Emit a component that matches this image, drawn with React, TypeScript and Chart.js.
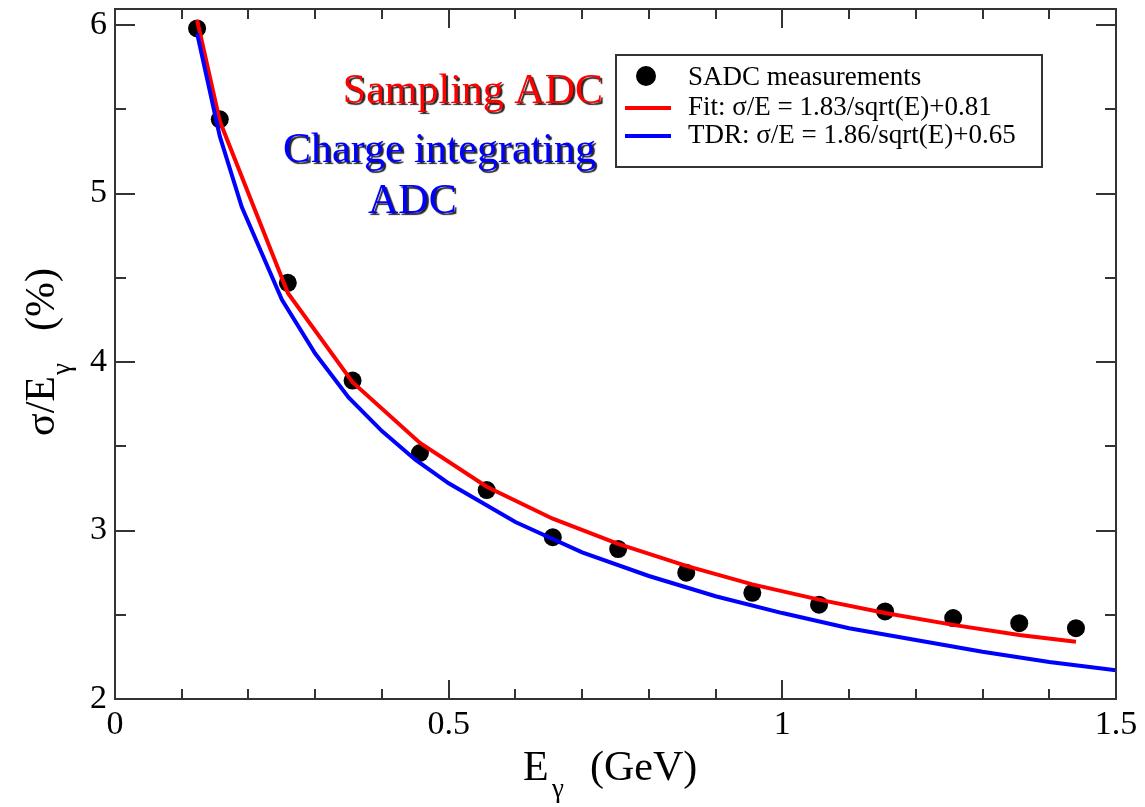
import React, { useEffect, useRef } from 'react';
import { Chart, registerables } from 'chart.js';

Chart.register(...registerables);

// ---- data ----
const measEnergy = [0.123, 0.157, 0.259, 0.356, 0.457, 0.557, 0.656, 0.754, 0.856, 0.955, 1.055, 1.154, 1.256, 1.355, 1.44];
const measSigma = [5.98, 5.44, 4.47, 3.89, 3.46, 3.24, 2.96, 2.89, 2.75, 2.63, 2.56, 2.52, 2.48, 2.45, 2.42];

const fitEnergy = [0.123, 0.157, 0.259, 0.356, 0.457, 0.557, 0.656, 0.754, 0.856, 0.955, 1.055, 1.154, 1.256, 1.355, 1.44];
const fitSigma = [6.03, 5.43, 4.41, 3.88, 3.52, 3.26, 3.07, 2.92, 2.79, 2.68, 2.59, 2.51, 2.44, 2.38, 2.34];

const tdrEnergy = [0.123, 0.157, 0.19, 0.25, 0.3, 0.35, 0.4, 0.45, 0.5, 0.6, 0.7, 0.8, 0.9, 1.0, 1.1, 1.2, 1.3, 1.4, 1.5];
const tdrSigma = [5.95, 5.34, 4.92, 4.37, 4.05, 3.79, 3.59, 3.42, 3.28, 3.05, 2.87, 2.73, 2.61, 2.51, 2.42, 2.35, 2.28, 2.22, 2.17];

const xTickValues = [0, 0.5, 1, 1.5];
const xTickLabels = ['0', '0.5', '1', '1.5'];
const yTickValues = [2, 3, 4, 5, 6];
const yTickLabels = ['2', '3', '4', '5', '6'];

const legendLabels = ['SADC measurements', 'Fit: σ/E = 1.83/sqrt(E)+0.81', 'TDR: σ/E = 1.86/sqrt(E)+0.65'];

const W = 1145;
const H = 807;
const SERIF = "'Liberation Serif', 'Times New Roman', serif";

function toXY(xs: number[], ys: number[]) {
  return xs.map((v, i) => ({ x: v, y: ys[i] }));
}

const decorPlugin = {
  id: 'decor',
  afterDatasetsDraw(chart: any) {
    const ctx: CanvasRenderingContext2D = chart.ctx;
    const { left, right, top, bottom } = chart.chartArea;
    const xs = chart.scales.x;
    const ys = chart.scales.y;
    ctx.save();

    // frame + inward ticks on all four sides
    ctx.strokeStyle = '#333';
    ctx.lineWidth = 2;
    ctx.beginPath();
    for (let i = 0; i <= 15; i++) {
      const px = Math.round(xs.getPixelForValue(i / 10));
      const len = i % 5 === 0 ? 19 : 10;
      ctx.moveTo(px, bottom);
      ctx.lineTo(px, bottom - len);
      ctx.moveTo(px, top);
      ctx.lineTo(px, top + len);
    }
    for (let i = 0; i <= 8; i++) {
      const py = Math.round(ys.getPixelForValue(2 + i * 0.5));
      const len = i % 2 === 0 ? 20 : 11;
      ctx.moveTo(left, py);
      ctx.lineTo(left + len, py);
      ctx.moveTo(right, py);
      ctx.lineTo(right - len, py);
    }
    ctx.stroke();
    ctx.strokeRect(left, top, right - left, bottom - top);

    // legend
    const ds = chart.data.datasets;
    const bx = 616, by = 55, bw = 426, bh = 112;
    ctx.fillStyle = '#fff';
    ctx.fillRect(bx, by, bw, bh);
    ctx.strokeStyle = '#333';
    ctx.lineWidth = 2;
    ctx.strokeRect(bx, by, bw, bh);
    ctx.font = `27px ${SERIF}`;
    ctx.textAlign = 'left';
    ctx.textBaseline = 'alphabetic';
    const rows = [76, 106, 134];
    const bases = [85, 115, 143];
    ctx.fillStyle = ds[0].backgroundColor;
    ctx.beginPath();
    ctx.arc(646, rows[0], 10, 0, Math.PI * 2);
    ctx.fill();
    for (let k = 1; k <= 2; k++) {
      ctx.strokeStyle = ds[k].borderColor;
      ctx.lineWidth = 4;
      ctx.beginPath();
      ctx.moveTo(625, rows[k] + 2);
      ctx.lineTo(671, rows[k] + 2);
      ctx.stroke();
    }
    ctx.fillStyle = '#000';
    for (let k = 0; k < 3; k++) ctx.fillText(legendLabels[k], 688, bases[k]);

    // annotations with drop shadow
    const shadowText = (t: string, x: number, yb: number, color: string, align: CanvasTextAlign) => {
      ctx.font = `42px ${SERIF}`;
      ctx.textAlign = align;
      ctx.textBaseline = 'alphabetic';
      ctx.save();
      ctx.shadowColor = 'rgba(0,0,0,0.85)';
      ctx.shadowOffsetX = 2;
      ctx.shadowOffsetY = 2;
      ctx.shadowBlur = 1;
      ctx.fillStyle = color;
      ctx.fillText(t, x, yb);
      ctx.restore();
    };
    shadowText('Sampling ADC', 603, 103, '#ff0000', 'right');
    shadowText('Charge integrating', 283, 162, '#0000ff', 'left');
    shadowText('ADC', 368, 213, '#0000ff', 'left');

    // x axis title: E_γ (GeV)
    ctx.fillStyle = '#000';
    ctx.textAlign = 'left';
    ctx.font = `42px ${SERIF}`;
    ctx.fillText('E', 523, 780);
    ctx.font = `27px ${SERIF}`;
    ctx.fillText('γ', 552, 797);
    ctx.font = `42px ${SERIF}`;
    ctx.fillText('(GeV)', 590, 780);

    // y axis title: σ/E_γ (%)
    ctx.save();
    ctx.translate(54, 436);
    ctx.rotate(-Math.PI / 2);
    ctx.font = `42px ${SERIF}`;
    ctx.fillText('σ/E', 0, 0);
    const wse = ctx.measureText('σ/E').width;
    ctx.font = `27px ${SERIF}`;
    ctx.fillText('γ', wse + 1, 16);
    ctx.font = `42px ${SERIF}`;
    ctx.fillText('(%)', 168 - ctx.measureText('(%)').width, 0);
    ctx.restore();

    ctx.restore();
  },
};

export default function App() {
  const ref = useRef<HTMLCanvasElement | null>(null);

  useEffect(() => {
    if (!ref.current) return;
    const chart = new Chart(ref.current, {
      type: 'scatter',
      data: {
        datasets: [
          {
            label: legendLabels[0],
            data: toXY(measEnergy, measSigma),
            backgroundColor: '#000',
            borderColor: '#000',
            pointRadius: 9,
            pointBorderWidth: 0,
            showLine: false,
            order: 3,
          },
          {
            label: legendLabels[1],
            data: toXY(fitEnergy, fitSigma),
            borderColor: '#ff0000',
            backgroundColor: '#ff0000',
            borderWidth: 4,
            pointRadius: 0,
            showLine: true,
            tension: 0,
            order: 2,
          },
          {
            label: legendLabels[2],
            data: toXY(tdrEnergy, tdrSigma),
            borderColor: '#0000ff',
            backgroundColor: '#0000ff',
            borderWidth: 4,
            pointRadius: 0,
            showLine: true,
            tension: 0,
            order: 1,
          },
        ],
      },
      options: {
        responsive: false,
        animation: false,
        devicePixelRatio: 1,
        layout: { padding: { left: 0, right: 29, top: 7, bottom: 0 } },
        plugins: {
          legend: { display: false },
          tooltip: { enabled: false },
        },
        scales: {
          x: {
            type: 'linear',
            min: 0,
            max: 1.5,
            grid: { display: false, drawTicks: false },
            border: { display: false },
            afterBuildTicks: (s: any) => {
              s.ticks = xTickValues.map((v) => ({ value: v }));
            },
            afterFit: (s: any) => {
              s.height = 108;
              s.paddingLeft = 0;
              s.paddingRight = 0;
              s.paddingTop = 0;
              s.paddingBottom = 0;
            },
            ticks: {
              padding: 6,
              color: '#000',
              font: { family: SERIF, size: 34 },
              maxRotation: 0,
              callback: (v: any) => {
                const i = xTickValues.indexOf(Number(v));
                return i >= 0 ? xTickLabels[i] : '';
              },
            },
          },
          y: {
            type: 'linear',
            min: 2,
            max: 6.095,
            grid: { display: false, drawTicks: false },
            border: { display: false },
            afterBuildTicks: (s: any) => {
              s.ticks = yTickValues.map((v) => ({ value: v }));
            },
            afterFit: (s: any) => {
              s.width = 115;
              s.paddingLeft = 0;
              s.paddingRight = 0;
              s.paddingTop = 0;
              s.paddingBottom = 0;
            },
            ticks: {
              padding: 8,
              color: '#000',
              font: { family: SERIF, size: 34 },
              callback: (v: any) => {
                const i = yTickValues.indexOf(Number(v));
                return i >= 0 ? yTickLabels[i] : '';
              },
            },
          },
        },
      },
      plugins: [decorPlugin],
    } as any);
    return () => chart.destroy();
  }, []);

  return (
    <div style={{ position: 'fixed', left: 0, top: 0, width: W, height: H, background: '#fff' }}>
      <canvas ref={ref} width={W} height={H} style={{ display: 'block', width: W, height: H }} />
    </div>
  );
}
